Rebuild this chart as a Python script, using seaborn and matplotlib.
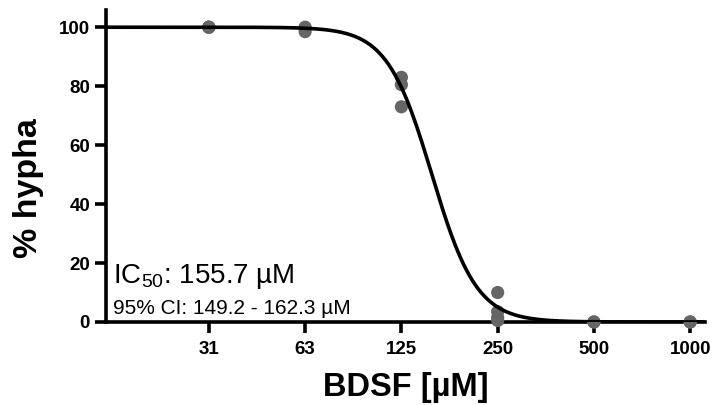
import numpy as np
import pandas as pd
import matplotlib
matplotlib.use("Agg")
import matplotlib.pyplot as plt
import seaborn as sns

# Data
conc = [31.25, 31.25, 31.25, 62.5, 62.5, 62.5, 125, 125, 125, 250, 250, 250, 250, 500, 500, 1000, 1000]
hypha = [100, 100, 100, 99.8, 98.5, 100, 83, 80.5, 73, 10, 3.5, 1.5, 0.5, 0, 0, 0, 0]
tick_vals = [31.25, 62.5, 125, 250, 500, 1000]
tick_labels = ["31", "63", "125", "250", "500", "1000"]
ic50 = 155.7
hill = 6.2
top = 100.0
bottom = 0.0

sns.set_theme(style="ticks")
plt.rcParams['font.family'] = ['Liberation Sans', 'DejaVu Sans']
plt.rcParams['text.color'] = 'black'
plt.rcParams['axes.labelcolor'] = 'black'
plt.rcParams['xtick.color'] = 'black'
plt.rcParams['ytick.color'] = 'black'
plt.rcParams['mathtext.fontset'] = 'custom'
plt.rcParams['mathtext.rm'] = 'Liberation Sans'
plt.rcParams['mathtext.default'] = 'regular'

fig = plt.figure(figsize=(7.18, 4.05), dpi=100)
ax = fig.add_axes([0.1476, 0.205, 0.8344, 0.770])

df = pd.DataFrame({"conc": conc, "hypha": hypha})
xs = np.logspace(np.log10(15), np.log10(1110), 400)
curve = pd.DataFrame({"x": xs, "y": bottom + (top - bottom) / (1 + (xs / ic50) ** hill)})

sns.scatterplot(data=df, x="conc", y="hypha", ax=ax, color="#666666", s=90,
                edgecolor="none", zorder=3, clip_on=False)
sns.lineplot(data=curve, x="x", y="y", ax=ax, color="black", linewidth=2.6, zorder=4)

ax.set_xscale("log")
ax.set_xlim(14.9, 1113)
ax.set_ylim(0, 105.8)
ax.set_xticks(tick_vals)
ax.set_xticklabels(tick_labels)
ax.minorticks_off()
ax.set_yticks([0, 20, 40, 60, 80, 100])

for s in ["top", "right"]:
    ax.spines[s].set_visible(False)
for s in ["left", "bottom"]:
    ax.spines[s].set_linewidth(2.6)
    ax.spines[s].set_color("black")
ax.tick_params(axis="both", length=8, width=2.6, colors="black", labelsize=13.5)
ax.tick_params(axis="x", pad=6)
for lab in ax.get_xticklabels() + ax.get_yticklabels():
    lab.set_fontweight("bold")

ax.set_xlabel("BDSF [µM]", fontsize=23.5, fontweight="bold", labelpad=10)
ax.set_ylabel("% hypha", fontsize=24.5, fontweight="bold")
ax.yaxis.set_label_coords(-0.104, 0.43)

ax.text(0.012, 0.125, r"IC$_{50}$: 155.7 µM", transform=ax.transAxes, fontsize=20, va="baseline", ha="left")
ax.text(0.012, 0.026, "95% CI: 149.2 - 162.3 µM", transform=ax.transAxes, fontsize=15, va="baseline", ha="left")

fig.savefig("out.png", dpi=100)
